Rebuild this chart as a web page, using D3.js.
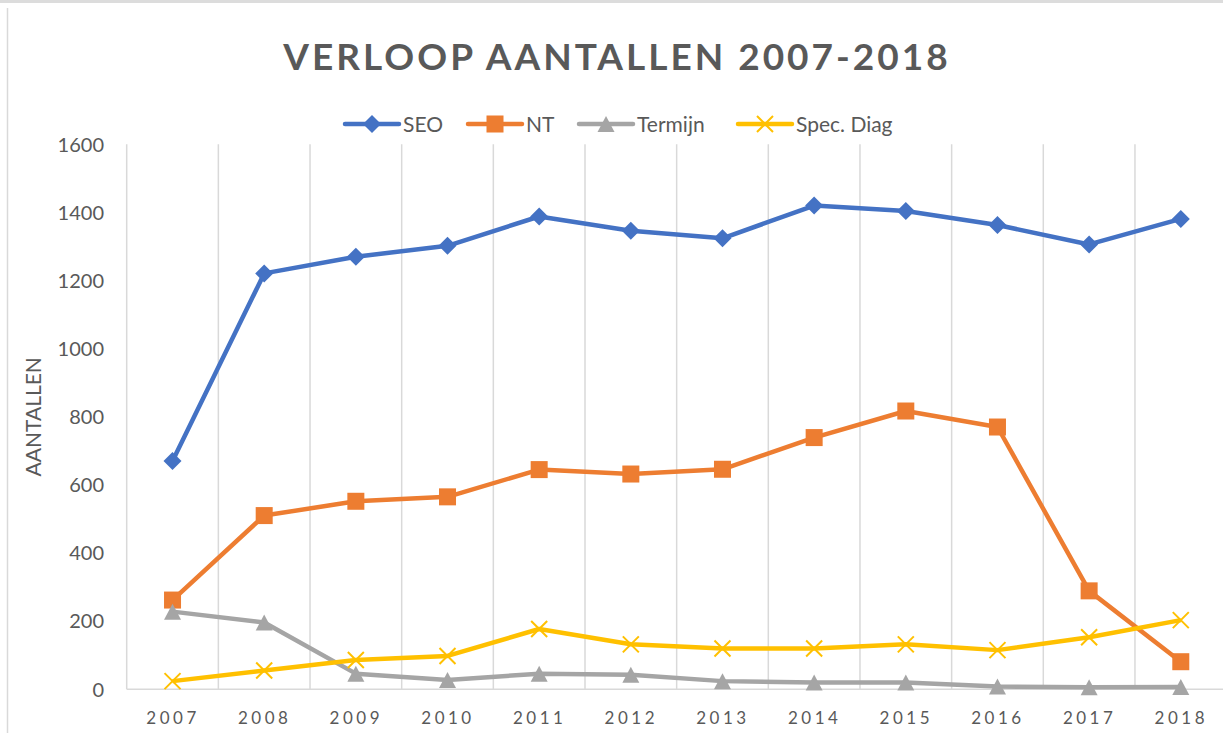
<!DOCTYPE html>
<html>
<head>
  <meta charset="utf-8">
  <title>Verloop aantallen 2007-2018</title>
  <script src="https://d3js.org/d3.v7.min.js"></script>
  <style>
    body { margin: 0; background: #fff; }
    svg text { font-family: Lato, "Open Sans", sans-serif; fill: #595959; }
  </style>
</head>
<body>
  <div id="chart"></div>

  <script>
    var years = ["2007", "2008", "2009", "2010", "2011", "2012", "2013", "2014", "2015", "2016", "2017", "2018"];
    var seo = [670, 1221, 1270, 1302, 1388, 1346, 1324, 1420, 1404, 1363, 1306, 1381];
    var nt = [262, 510, 552, 565, 645, 632, 646, 739, 817, 770, 289, 81];
    var termijn = [228, 196, 46, 27, 46, 43, 24, 20, 20, 8, 6, 7];
    var specDiag = [24, 55, 86, 98, 177, 132, 120, 120, 132, 115, 153, 203];
    var yTicks = [0, 200, 400, 600, 800, 1000, 1200, 1400, 1600];

    var series = [
      {name: "SEO", values: seo, color: "#4472C4", marker: "diamond"},
      {name: "NT", values: nt, color: "#ED7D31", marker: "square"},
      {name: "Termijn", values: termijn, color: "#A5A5A5", marker: "triangle"},
      {name: "Spec. Diag", values: specDiag, color: "#FFC000", marker: "x"}
    ];

    var W = 1223, H = 733;
    var plotLeft = 126.7, step = 91.66, plotTop = 144.3, plotBottom = 689.3;

    var svg = d3.select("#chart")
      .append("svg")
      .attr("width", W)
      .attr("height", H);

    // chart frame
    svg.append("rect").attr("x", 0).attr("y", 0).attr("width", W).attr("height", 3).attr("fill", "#dcdcdc");
    svg.append("line").attr("x1", 7.5).attr("x2", 7.5).attr("y1", 8).attr("y2", H)
      .attr("stroke", "#d9d9d9").attr("stroke-width", 1.5);

    var x = d3.scaleBand()
      .domain(years)
      .range([plotLeft, plotLeft + step * years.length])
      .padding(0);

    var cx = function(d) { return x(d) + x.bandwidth() / 2; };

    var y = d3.scaleLinear()
      .domain([0, 1600])
      .range([plotBottom, plotTop]);

    // vertical gridlines at category edges
    svg.append("g")
      .selectAll("line")
      .data(years)
      .enter()
      .append("line")
      .attr("x1", function(d) { return x(d); })
      .attr("x2", function(d) { return x(d); })
      .attr("y1", y(1600))
      .attr("y2", y(0))
      .attr("stroke", "#d9d9d9")
      .attr("stroke-width", 1.5);

    // x axis line
    svg.append("line")
      .attr("x1", plotLeft).attr("x2", W)
      .attr("y1", y(0)).attr("y2", y(0))
      .attr("stroke", "#d9d9d9")
      .attr("stroke-width", 1.5);

    // y tick labels
    svg.append("g")
      .selectAll("text")
      .data(yTicks)
      .enter()
      .append("text")
      .attr("x", 104)
      .attr("y", function(d) { return y(d); })
      .attr("dy", "0.36em")
      .attr("text-anchor", "end")
      .style("font-size", "20px")
      .text(function(d) { return d; });

    // x tick labels
    svg.append("g")
      .selectAll("text")
      .data(years)
      .enter()
      .append("text")
      .attr("x", function(d) { return cx(d) + 0.5; })
      .attr("y", 724)
      .attr("text-anchor", "middle")
      .style("font-size", "17px")
      .style("letter-spacing", "3.5px")
      .text(function(d) { return d; });

    // axis title
    svg.append("text")
      .attr("transform", "translate(41," + ((plotTop + plotBottom) / 2) + ") rotate(-90)")
      .attr("text-anchor", "middle")
      .style("font-size", "21px")
      .text("AANTALLEN");

    // chart title
    svg.append("text")
      .attr("x", 617)
      .attr("y", 70)
      .attr("text-anchor", "middle")
      .style("font-size", "37px")
      .style("font-weight", "bold")
      .style("letter-spacing", "3px")
      .text("VERLOOP AANTALLEN 2007-2018");

    function drawMarker(g, type, color) {
      if (type === "diamond") {
        g.append("path").attr("d", "M0,-9L9,0L0,9L-9,0Z").attr("fill", color);
      } else if (type === "square") {
        g.append("rect").attr("x", -8.5).attr("y", -8.5).attr("width", 17).attr("height", 17).attr("fill", color);
      } else if (type === "triangle") {
        g.append("path").attr("d", "M0,-8L8.5,8L-8.5,8Z").attr("fill", color);
      } else {
        g.append("path").attr("d", "M-8,-8L8,8M-8,8L8,-8")
          .attr("stroke", color).attr("stroke-width", 2).attr("fill", "none");
      }
    }

    var line = d3.line()
      .x(function(d, i) { return cx(years[i]); })
      .y(function(d) { return y(d); });

    series.forEach(function(s) {
      svg.append("path")
        .datum(s.values)
        .attr("d", line)
        .attr("fill", "none")
        .attr("stroke", s.color)
        .attr("stroke-width", 4.5)
        .attr("stroke-linejoin", "round");

      svg.append("g")
        .selectAll("g")
        .data(s.values)
        .enter()
        .append("g")
        .attr("transform", function(d, i) { return "translate(" + cx(years[i]) + "," + y(d) + ")"; })
        .each(function() { drawMarker(d3.select(this), s.marker, s.color); });
    });

    // legend
    var legendX = [345, 468, 579, 738];
    var legend = svg.append("g");
    series.forEach(function(s, i) {
      var g = legend.append("g").attr("transform", "translate(" + legendX[i] + ",124)");
      g.append("line")
        .attr("x1", 0).attr("x2", 54)
        .attr("stroke", s.color)
        .attr("stroke-width", 4.5)
        .attr("stroke-linecap", "round");
      drawMarker(g.append("g").attr("transform", "translate(27,0)"), s.marker, s.color);
      g.append("text")
        .attr("x", 58)
        .attr("dy", "0.36em")
        .style("font-size", "21px")
        .text(s.name);
    });
  </script>
</body>
</html>
